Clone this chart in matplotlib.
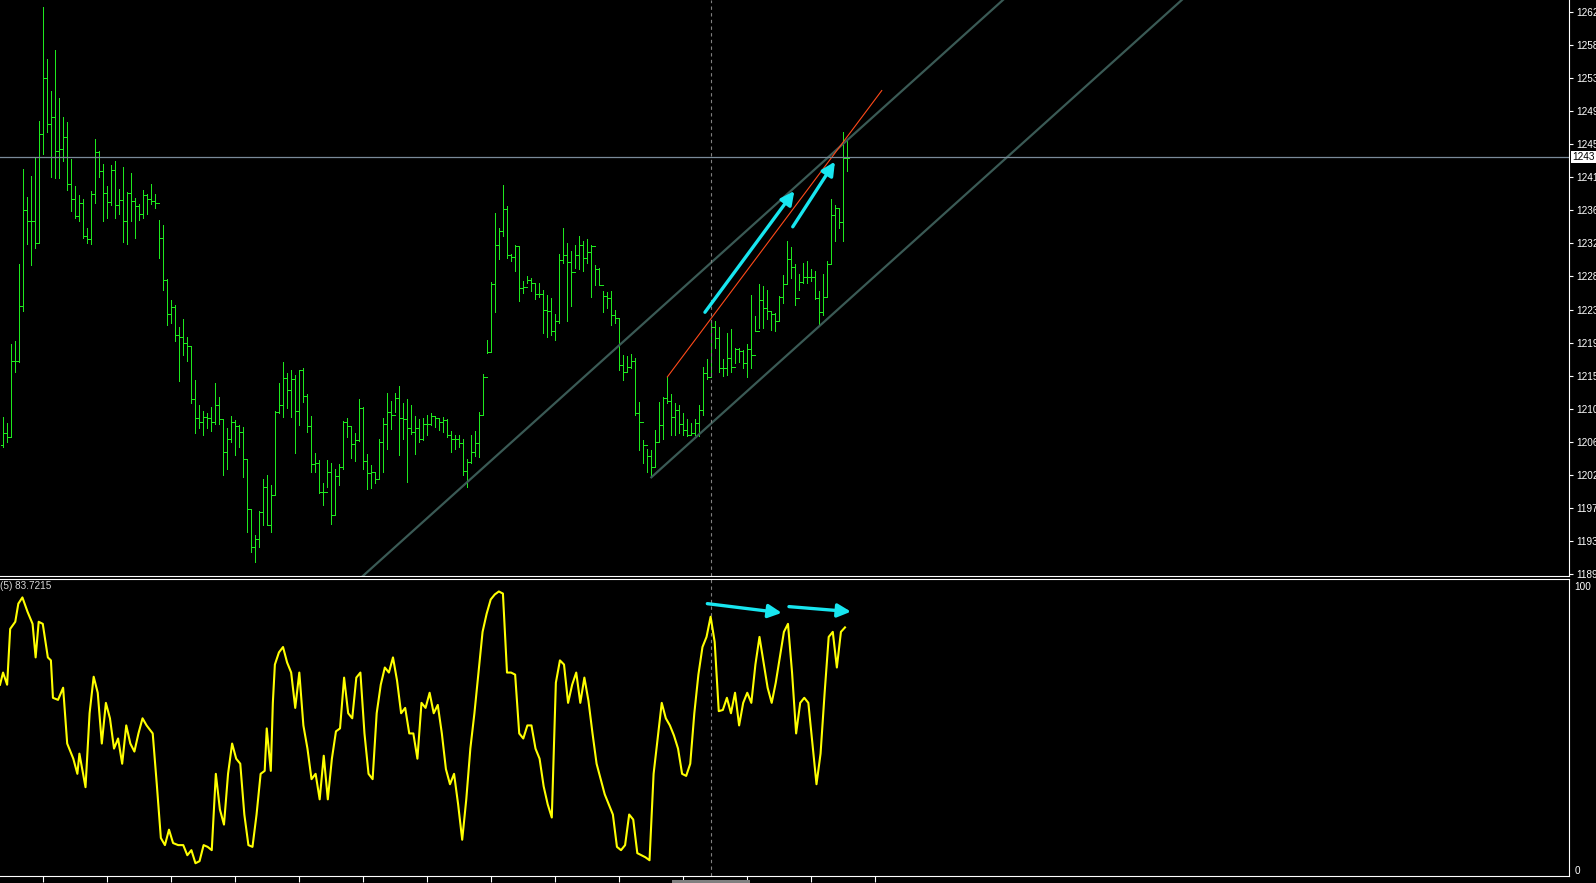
import matplotlib
matplotlib.use('Agg')
import matplotlib.pyplot as plt
import numpy as np
from matplotlib.transforms import blended_transform_factory
from matplotlib.patches import Rectangle

plt.rcParams['font.family'] = ['Liberation Sans', 'DejaVu Sans']

# ---- OHLC bars ----
highs = [1209.8, 1209.0, 1219.3, 1219.7, 1229.7, 1242.0, 1238.4, 1241.1, 1243.5, 1248.2,
         1263.1, 1256.3, 1252.2, 1257.5, 1251.2, 1248.8, 1248.1, 1243.3, 1239.8, 1238.6,
         1238.1, 1234.3, 1239.1, 1245.9, 1244.3, 1242.7, 1239.8, 1242.5, 1243.1, 1239.4,
         1242.3, 1239.0, 1241.5, 1238.2, 1237.5, 1239.3, 1238.8, 1240.0, 1238.8, 1235.4,
         1234.7, 1227.7, 1225.0, 1224.3, 1221.5, 1222.5, 1220.2, 1219.0, 1214.6, 1211.4,
         1210.6, 1210.3, 1211.1, 1214.2, 1212.4, 1209.5, 1208.4, 1209.9, 1209.4, 1208.8,
         1208.5, 1204.3, 1197.8, 1194.5, 1197.6, 1201.8, 1202.3, 1201.0, 1210.6, 1214.2,
         1216.9, 1215.5, 1215.9, 1215.2, 1215.9, 1216.1, 1212.8, 1209.9, 1205.1, 1204.2,
         1201.2, 1204.2, 1203.8, 1203.0, 1203.7, 1209.3, 1209.7, 1208.6, 1207.7, 1212.1,
         1211.1, 1205.0, 1203.6, 1202.7, 1207.0, 1209.7, 1212.9, 1211.9, 1212.9, 1213.8,
         1211.6, 1212.1, 1211.3, 1209.9, 1209.5, 1209.6, 1210.0, 1210.3, 1209.8, 1209.6,
         1209.8, 1209.5, 1208.0, 1207.5, 1207.5, 1207.0, 1204.4, 1207.5, 1208.0, 1210.5,
         1215.4, 1219.8, 1227.3, 1236.3, 1234.4, 1239.9, 1237.2, 1231.0, 1232.1, 1232.0,
         1227.4, 1228.1, 1227.8, 1227.2, 1227.2, 1226.3, 1225.6, 1225.3, 1223.2, 1231.0,
         1234.4, 1232.4, 1231.3, 1232.1, 1233.3, 1232.6, 1232.9, 1232.1, 1229.5, 1229.2,
         1226.1, 1226.0, 1226.2, 1223.7, 1222.6, 1217.8, 1217.7, 1218.0, 1217.4, 1211.8,
         1206.8, 1205.7, 1205.5, 1208.1, 1211.7, 1212.4, 1215.0, 1212.8, 1211.6, 1211.3,
         1210.3, 1209.5, 1209.0, 1209.5, 1211.3, 1216.3, 1217.3, 1222.4, 1222.2, 1221.5,
         1217.3, 1220.7, 1221.2, 1218.8, 1218.8, 1218.5, 1219.3, 1225.6, 1222.9, 1227.1,
         1226.8, 1226.3, 1223.6, 1223.3, 1225.5, 1228.2, 1232.6, 1231.9, 1229.7, 1228.4,
         1229.8, 1230.1, 1229.0, 1228.7, 1226.2, 1228.4, 1230.1, 1238.1, 1237.3, 1237.0,
         1246.8, 1245.6]
lows = [1205.9, 1206.6, 1207.2, 1215.7, 1217.0, 1223.6, 1232.3, 1229.5, 1231.7, 1232.4,
        1243.9, 1246.8, 1241.0, 1240.8, 1240.8, 1243.1, 1239.3, 1236.6, 1235.6, 1235.3,
        1233.0, 1232.4, 1232.3, 1237.6, 1241.0, 1235.3, 1235.7, 1237.3, 1235.6, 1236.2,
        1232.5, 1232.3, 1235.3, 1233.0, 1235.4, 1235.7, 1236.1, 1237.4, 1236.9, 1230.5,
        1226.3, 1221.7, 1222.0, 1219.7, 1214.5, 1217.8, 1217.1, 1211.6, 1207.7, 1208.3,
        1207.5, 1208.4, 1208.0, 1208.9, 1208.9, 1202.2, 1203.1, 1206.6, 1204.8, 1205.9,
        1202.0, 1194.9, 1192.3, 1191.0, 1192.9, 1195.8, 1195.8, 1194.8, 1199.6, 1210.3,
        1209.8, 1211.0, 1209.8, 1205.1, 1208.8, 1211.8, 1207.9, 1202.7, 1202.7, 1199.9,
        1198.4, 1200.7, 1195.9, 1197.1, 1201.0, 1203.0, 1207.2, 1204.5, 1204.1, 1206.7,
        1203.1, 1200.5, 1200.6, 1201.2, 1201.8, 1202.6, 1205.6, 1208.2, 1210.5, 1204.9,
        1206.9, 1201.4, 1207.6, 1205.0, 1206.5, 1206.8, 1207.5, 1208.8, 1208.5, 1208.1,
        1207.9, 1207.2, 1205.2, 1205.7, 1205.9, 1202.2, 1200.7, 1203.8, 1204.7, 1204.6,
        1210.0, 1218.1, 1218.2, 1223.4, 1230.3, 1233.3, 1230.5, 1230.0, 1228.7, 1224.9,
        1225.9, 1227.2, 1226.2, 1225.1, 1225.4, 1220.7, 1220.2, 1220.4, 1219.8, 1222.0,
        1229.8, 1222.3, 1224.2, 1229.1, 1229.0, 1228.7, 1229.8, 1225.4, 1226.9, 1226.9,
        1223.4, 1223.9, 1221.7, 1222.0, 1215.9, 1214.6, 1215.7, 1216.1, 1210.0, 1205.5,
        1203.8, 1202.6, 1202.0, 1203.3, 1206.5, 1207.0, 1211.6, 1207.5, 1207.5, 1207.7,
        1207.5, 1207.3, 1207.5, 1207.5, 1207.3, 1210.0, 1214.7, 1215.0, 1218.8, 1215.6,
        1215.1, 1215.2, 1215.7, 1216.8, 1217.0, 1216.1, 1215.0, 1216.2, 1220.9, 1221.3,
        1221.3, 1222.5, 1221.1, 1221.0, 1222.2, 1224.6, 1227.1, 1227.9, 1224.3, 1226.3,
        1227.2, 1227.2, 1227.5, 1225.1, 1221.7, 1223.0, 1225.4, 1229.7, 1232.6, 1234.4,
        1232.6, 1241.8]
closes = [1207.7, 1207.2, 1217.1, 1217.1, 1224.2, 1236.7, 1235.2, 1235.2, 1232.4, 1246.5,
          1253.8, 1247.8, 1248.7, 1244.4, 1244.6, 1246.1, 1240.1, 1238.1, 1235.9, 1237.6,
          1233.3, 1232.9, 1238.7, 1244.2, 1241.8, 1238.9, 1237.7, 1241.9, 1237.3, 1238.0,
          1235.3, 1238.9, 1237.8, 1237.2, 1236.2, 1238.6, 1238.1, 1237.9, 1237.6, 1233.1,
          1227.6, 1223.2, 1224.1, 1220.4, 1220.2, 1219.4, 1219.0, 1212.1, 1209.7, 1209.1,
          1209.8, 1209.6, 1209.1, 1211.3, 1209.5, 1205.3, 1206.9, 1209.1, 1208.6, 1207.9,
          1204.3, 1197.8, 1192.9, 1193.9, 1197.4, 1200.7, 1195.8, 1199.6, 1210.4, 1211.4,
          1214.8, 1213.3, 1214.7, 1210.6, 1215.9, 1212.5, 1208.6, 1203.7, 1203.8, 1200.0,
          1200.0, 1202.6, 1197.0, 1202.1, 1203.3, 1209.1, 1208.6, 1206.3, 1206.8, 1210.9,
          1204.1, 1202.5, 1202.6, 1201.8, 1206.5, 1208.9, 1210.4, 1210.0, 1212.2, 1209.7,
          1209.5, 1208.3, 1207.8, 1208.3, 1207.0, 1208.9, 1208.9, 1209.9, 1209.6, 1209.2,
          1209.4, 1207.5, 1206.9, 1207.0, 1206.4, 1202.8, 1203.9, 1205.3, 1206.4, 1210.0,
          1215.0, 1218.2, 1227.1, 1232.2, 1233.9, 1236.8, 1230.9, 1230.6, 1232.0, 1226.6,
          1226.7, 1227.6, 1227.2, 1225.8, 1225.8, 1223.7, 1223.5, 1220.9, 1222.2, 1230.2,
          1230.9, 1229.9, 1228.6, 1230.9, 1232.1, 1230.5, 1231.2, 1232.0, 1229.0, 1226.9,
          1225.5, 1225.3, 1223.0, 1222.6, 1216.5, 1215.7, 1216.3, 1217.1, 1210.3, 1209.1,
          1206.1, 1204.7, 1203.3, 1206.6, 1208.8, 1212.3, 1211.9, 1209.8, 1210.7, 1208.9,
          1208.1, 1207.5, 1207.7, 1209.0, 1210.7, 1215.5, 1215.0, 1221.5, 1220.0, 1216.1,
          1216.1, 1217.4, 1216.3, 1218.6, 1218.4, 1216.8, 1218.6, 1217.8, 1221.0, 1225.0,
          1224.0, 1223.5, 1223.2, 1222.2, 1225.4, 1227.1, 1230.3, 1229.3, 1225.2, 1227.3,
          1228.0, 1228.0, 1228.0, 1225.2, 1223.4, 1225.4, 1229.7, 1236.0, 1237.0, 1235.1,
          1243.5, 1243.5]
first_open = 1206.2
last_price = 1243.55
last_price_label = '1243'

# price scale labels (right side)
price_labels = ['1262', '1258', '1253', '1249', '1245', '1241', '1236', '1232', '1228',
                '1223', '1219', '1215', '1210', '1206', '1202', '1197', '1193', '1189']
price_top_tick, price_tick_step = 1262.40, 4.2945

# stochastic (5) line, read at these screen columns (shrunk view px)
stoch_x = [0, 3, 7, 10, 15, 18, 22, 27, 32, 35, 38, 42, 47, 50, 52, 57, 62, 66, 72, 76,
           78, 84, 88, 92, 96, 100, 104, 108, 112, 116, 120, 124, 128, 132, 136, 140, 144, 150, 154, 158,
           162, 166, 170, 175, 180, 184, 188, 192, 196, 200, 204, 208, 212, 216, 220, 224, 228, 232, 236, 240,
           244, 248, 252, 256, 260, 262, 266, 268, 270, 274, 278, 282, 286, 290, 294, 298, 302, 306, 310, 314,
           318, 322, 326, 330, 334, 338, 342, 346, 350, 354, 358, 362, 366, 370, 374, 378, 382, 386, 390, 394,
           398, 402, 406, 410, 414, 418, 422, 426, 430, 434, 438, 442, 446, 450, 454, 458, 462, 466, 470, 474,
           478, 482, 486, 490, 494, 498, 502, 506, 510, 514, 518, 522, 526, 530, 534, 538, 542, 546, 550, 554,
           558, 562, 566, 570, 574, 578, 582, 586, 590, 594, 598, 602, 606, 610, 614, 618, 622, 626, 630, 634,
           638, 642, 646, 650, 654, 658, 662, 666, 670, 674, 678, 682, 686, 690, 694, 698, 702, 706, 710, 714,
           718, 722, 726, 730, 734, 738, 742, 746, 750, 754, 758, 762, 766, 770, 774, 778, 782, 786, 790, 794,
           798, 802, 806, 810, 814, 818, 822, 826, 830]
stoch = [64.4, 68.5, 64.4, 83.2, 85.6, 91.7, 93.8, 89.0, 84.9, 73.6,
         85.6, 84.9, 73.6, 72.6, 60.0, 59.3, 63.4, 44.6, 39.5, 34.4,
         41.2, 29.9, 54.8, 67.1, 61.7, 44.6, 58.3, 53.1, 42.9, 46.3,
         37.8, 50.7, 44.6, 41.9, 48.0, 53.1, 50.7, 48.0, 30.9, 12.8,
         10.4, 15.6, 11.1, 10.4, 10.4, 7.0, 8.7, 4.3, 5.0, 10.4,
         9.8, 8.7, 34.4, 22.4, 17.3, 34.4, 44.6, 39.5, 37.8, 20.7,
         10.4, 9.8, 20.7, 34.4, 35.4, 49.7, 35.4, 58.3, 71.2, 75.3,
         77.1, 71.9, 68.5, 56.6, 68.5, 50.7, 42.9, 32.6, 34.4, 25.8,
         40.5, 25.8, 39.5, 48.7, 49.7, 66.8, 54.8, 53.1, 66.8, 68.5,
         48.0, 34.4, 32.6, 54.8, 64.4, 70.2, 68.5, 73.6, 65.8, 54.8,
         56.6, 48.0, 48.0, 39.5, 58.3, 56.6, 61.7, 54.8, 57.6, 48.0,
         36.0, 30.9, 34.4, 24.1, 12.2, 25.8, 42.9, 54.8, 68.5, 82.2,
         88.3, 93.1, 94.8, 95.8, 95.1, 68.5, 68.5, 67.8, 48.0, 46.3,
         50.7, 50.7, 42.9, 39.5, 30.2, 24.1, 19.7, 65.1, 72.6, 71.2,
         58.3, 64.4, 68.5, 58.3, 66.8, 59.0, 48.0, 37.8, 32.6, 27.5,
         24.1, 20.7, 9.8, 8.7, 10.4, 20.7, 19.0, 7.7, 7.0, 6.3,
         5.3, 34.4, 46.3, 58.3, 53.1, 50.7, 47.3, 42.9, 34.4, 33.7,
         37.8, 54.8, 67.8, 77.1, 80.5, 87.3, 78.8, 55.5, 55.9, 60.0,
         54.8, 61.7, 50.7, 58.3, 61.7, 58.3, 71.2, 80.5, 71.9, 63.4,
         58.3, 65.1, 73.6, 82.2, 84.9, 68.5, 48.0, 58.3, 60.0, 58.3,
         44.6, 30.9, 41.2, 61.7, 80.5, 82.2, 70.2, 82.2, 83.7]
stoch_label = '(5) 83.7215'

# drawn objects (bar index, price / stoch value)
channel_start = (162, 1201.96)
channel_slope = 0.4676
channel_width = 20.9
trend_line = [(166, 1215.0), (219.6, 1252.2)]
price_arrows = [((175.4, 1223.4), (197.75, 1239.15)), ((197.35, 1234.5), (207.9, 1242.96))]
stoch_arrows = [((176.0, 91.7), (194.6, 88.6)), ((196.4, 90.7), (211.9, 89.0))]
cursor_bar = 177
time_ticks = list(range(10, 220, 16))

# ---- figure ----
W, H = 1596, 883
fig = plt.figure(figsize=(W / 100, H / 100), dpi=100, facecolor='black')


def px_axes(x0, y0, x1, y1):
    a = fig.add_axes([x0 / W, 1 - y1 / H, (x1 - x0) / W, (y1 - y0) / H])
    a.set_facecolor('black')
    return a


ax = px_axes(0, 0, 1569, 576)
axs = px_axes(0, 579, 1569, 876)
xlim = (-0.825, 391.4)
for a in (ax, axs):
    a.set_xlim(*xlim)
    for s in a.spines.values():
        s.set_color('white')
        s.set_linewidth(0.8)
    a.spines['left'].set_visible(False)
ax.spines['top'].set_visible(False)
ax.set_ylim(1189.14, 1263.96)
axs.set_ylim(0, 100)

green = '#1ee81e'
k = np.arange(len(closes))
opens = np.r_[first_open, closes[:-1]]  # opens sit on the previous close here
ax.vlines(k, lows, highs, color=green, lw=0.72, antialiased=False)
ax.hlines(opens, k - 0.5, k, color=green, lw=0.72, antialiased=False)
ax.hlines(closes, k, k + 0.5, color=green, lw=0.72, antialiased=False)

# equidistant channel
chan_col = '#3a5a55'
xb = np.array([channel_start[0], 420])
yb = channel_start[1] + channel_slope * (xb - channel_start[0])
ax.plot(xb, yb, color=chan_col, lw=1.6)
xa = np.array([60, 420])
ya = channel_start[1] + channel_width + channel_slope * (xa - channel_start[0])
ax.plot(xa, ya, color=chan_col, lw=1.6)

# trend line
ax.plot([p[0] for p in trend_line], [p[1] for p in trend_line], color='#ff4a1a', lw=0.8)

cyan = '#18e6f0'
for (x0, y0), (x1, y1) in price_arrows:
    ax.annotate('', xy=(x1, y1), xytext=(x0, y0),
                arrowprops=dict(arrowstyle='-|>,head_length=0.8,head_width=0.4',
                                color=cyan, lw=2.4, shrinkA=0, shrinkB=0))
for (x0, y0), (x1, y1) in stoch_arrows:
    axs.annotate('', xy=(x1, y1), xytext=(x0, y0),
                 arrowprops=dict(arrowstyle='-|>,head_length=0.8,head_width=0.4',
                                 color=cyan, lw=2.4, shrinkA=0, shrinkB=0))

# current price line + box
ax.axhline(last_price, color='#7a8a99', lw=0.9)
tr = blended_transform_factory(ax.transAxes, ax.transData)
ax.annotate(last_price_label, xy=(1, last_price), xycoords=tr,
            xytext=(3, 0), textcoords='offset pixels', va='center', ha='left',
            color='black', fontsize=7.2,
            bbox=dict(boxstyle='square,pad=0.12', fc='white', ec='none'))

# cursor line
for a in (ax, axs):
    a.axvline(cursor_bar, color='#808080', lw=0.8, ls=(0, (3, 3)))

# stochastic
sk = (np.array(stoch_x) * 1.018 - 3.3) / 4
axs.plot(sk, stoch, color='#ffff00', lw=1.5)

# axes ticks / labels
ax.yaxis.tick_right()
ax.set_yticks([price_top_tick - price_tick_step * i for i in range(len(price_labels))])
ax.set_yticklabels(price_labels)
ax.tick_params(axis='y', colors='white', length=3, width=0.8, pad=2, labelsize=7.2)
ax.set_xticks([])

axs.yaxis.tick_right()
axs.set_yticks([2.0, 97.6])
axs.set_yticklabels(['0', '100'])
axs.tick_params(axis='y', colors='white', length=0, pad=4, labelsize=7.2)
axs.set_xticks(time_ticks)
axs.tick_params(axis='x', colors='white', length=4, width=0.8, labelbottom=False)

axs.annotate(stoch_label, xy=(0, 1), xycoords='axes fraction', xytext=(0, -2),
             textcoords='offset pixels', va='top', ha='left', color='#d8d8d8', fontsize=7.2)

fig.add_artist(Rectangle((672 / W, 0), 78 / W, 3 / H, transform=fig.transFigure,
                         fc='#808080', ec='none'))

fig.savefig('out.png', dpi=100, facecolor='black')
